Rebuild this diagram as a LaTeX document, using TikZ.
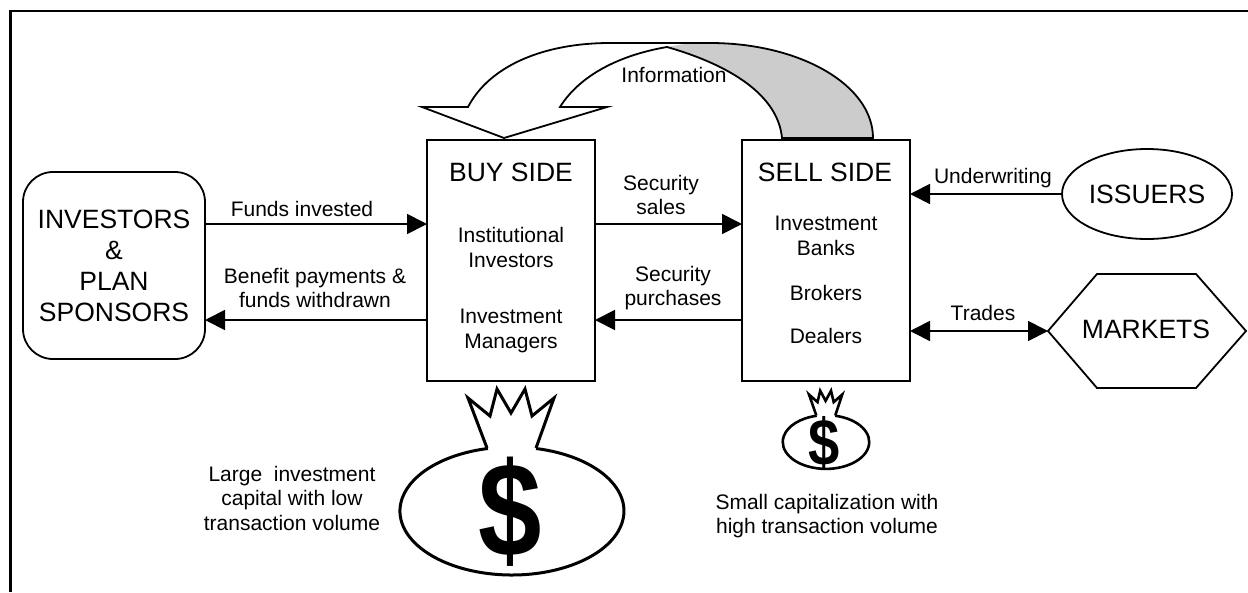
\documentclass[tikz,border=0pt]{standalone}
\usepackage{fontspec}
\setmainfont{Liberation Sans}
\usetikzlibrary{arrows.meta,shapes.geometric}
\tikzset{
  every node/.style={outer sep=0pt},
  shapeline/.style={draw=black,line width=1.8pt},
  small/.style={font=\fontsize{21}{24.5}\selectfont,align=center},
  big/.style={font=\fontsize{26.5}{31}\selectfont,align=center},
  flow/.style={line width=1.8pt,-{Triangle[length=20pt,width=20pt]}},
  flowboth/.style={line width=1.8pt,{Triangle[length=20pt,width=20pt]}-{Triangle[length=20pt,width=20pt]}}
}
\begin{document}
\begin{tikzpicture}[x=1pt,y=-1pt]
\useasboundingbox (0,0) rectangle (1248,592);
\draw[line width=2.6pt] (1248,11)--(10.5,11)--(10.5,592);

% Main boxes and outside parties
\node[shapeline,rounded corners=30pt,minimum width=182,minimum height=187,big] (investors) at (114,265.5) {INVESTORS\\\&\\PLAN\\SPONSORS};
\node[shapeline,minimum width=168,minimum height=241] (buyside) at (511,260.5) {};
\node[shapeline,minimum width=168,minimum height=241] (sellside) at (826,260.5) {};
\node[shapeline,ellipse,minimum width=170,minimum height=90,inner sep=0pt,big] (issuers) at (1147,194) {ISSUERS};
\coordinate (marketstip) at (1048,331);
\draw[line width=1.8pt] (marketstip)--(1097,274)--(1196,274)--(1246,331)--(1196,388)--(1097,388)--cycle;
\node[big] (markets) at (1146,329) {MARKETS};

% Text in the boxes
\node[big] (buytitle) at (511,172) {BUY SIDE};
\node[small] (institutional) at (511,247.5) {Institutional\\Investors};
\node[small] (managers) at (511,331) {Investment\\Managers};
\node[big] (selltitle) at (825,172) {SELL SIDE};
\node[small] (banks) at (826,236) {Investment\\Banks};
\node[small] (brokers) at (826,293) {Brokers};
\node[small] (dealers) at (826,336) {Dealers};

% Flows
\draw[flow] ([yshift=41.5pt]investors.east) -- ([yshift=36.5pt]buyside.west);
\draw[flow] ([yshift=-59.5pt]buyside.west) -- ([yshift=-54.5pt]investors.east);
\draw[flow] ([yshift=36.5pt]buyside.east) -- ([yshift=36.5pt]sellside.west);
\draw[flow] ([yshift=-59.5pt]sellside.west) -- ([yshift=-59.5pt]buyside.east);
\draw[flow] (issuers.west) -- ([yshift=66.5pt]sellside.east);
\draw[flowboth] ([yshift=-70.5pt]sellside.east) -- (marketstip);

\node[small] (fundslabel) at (302,209) {Funds invested};
\node[small] (benefitlabel) at (315,288) {Benefit payments \&\\funds withdrawn};
\node[small] (saleslabel) at (661,195) {Security\\sales};
\node[small] (purchaselabel) at (673,288) {Security\\purchases};
\node[small] (underwritinglabel) at (993,178) {Underwriting};
\node[small] (tradeslabel) at (983,313) {Trades};

% Information arrow
\fill[black!20] (667,47) -- (690,43) -- (710,43) .. controls (800,43) and (873,85) .. (873,138)
  -- (782,138) .. controls (778,95) and (730,65) .. (667,47);
\draw[line width=1.8pt,line join=miter] (873,138) .. controls (873,85) and (800,43) .. (710,43)
  -- (610,43) .. controls (545,43) and (490,65) .. (468,107)
  -- (422,107) -- (504,138) -- (607,107) -- (560,107)
  .. controls (580,75) and (620,55) .. (667,47)
  .. controls (730,65) and (778,95) .. (782,138) -- cycle;
\node[small] (infolabel) at (674,75) {Information};

% Money bags
\foreach \cx/\cy/\sx/\sy/\lw/\sz/\nm in {512/511/1/1/3/134/bigdollar,826/442/.386/.42/2.6/66/smalldollar}{
  \begin{scope}[shift={(\cx,\cy)},xscale=\sx,yscale=\sy,line width=\lw pt]
    \draw (24,-63)--(42,-113)--(20,-95)--(13,-122)--(-1,-98)--(-15,-122)--(-22,-95)--(-44,-113)--(-25,-63);
    \draw (24,-62.5) arc[start angle=-77.6,end angle=257.6,x radius=112,y radius=64];
  \end{scope}
  \node[font=\fontsize{\sz}{\sz}\selectfont\bfseries,inner sep=0pt,xscale=.85] (\nm) at (\cx-2,\cy+1) {\$};
}
\node[small] (largelabel) at (292,498) {Large\ \ investment\\capital with low\\transaction volume};
\node[small] (smalllabel) at (827,516) {Small capitalization with\\high transaction volume};
\end{tikzpicture}
\end{document}
